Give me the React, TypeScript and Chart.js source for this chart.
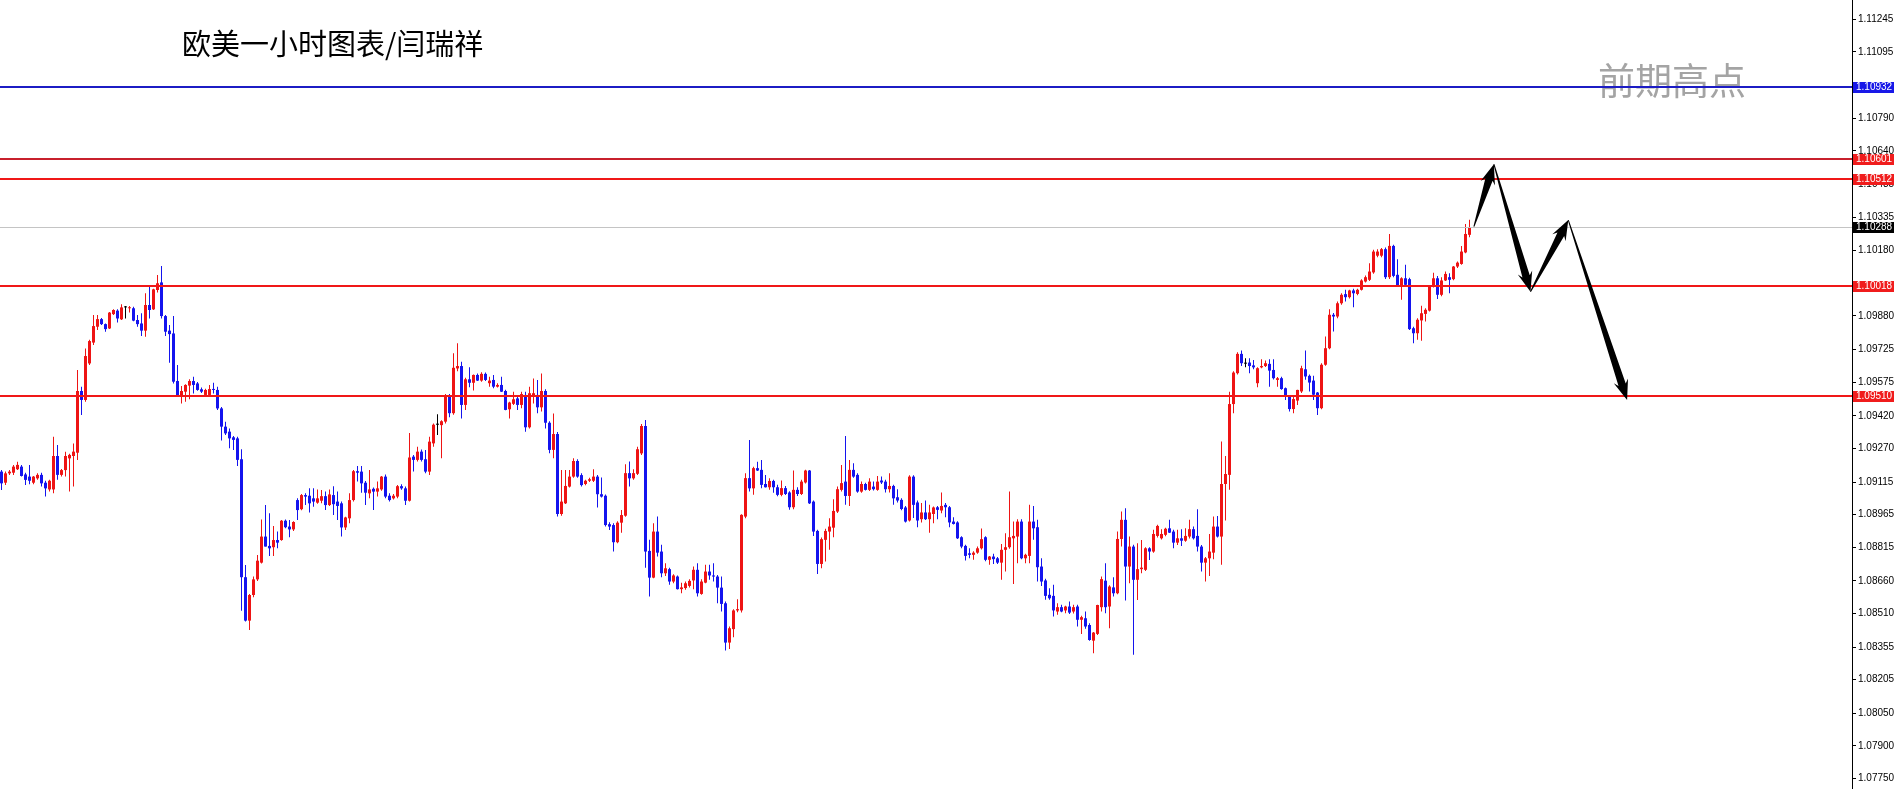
import React, { useEffect, useRef } from 'react';
import { Chart, registerables } from 'chart.js';

Chart.register(...registerables);

// ---- EURUSD H1 candles ----
const OPEN = [
  1.09163,1.09112,1.09155,1.09158,1.09174,1.09186,1.09150,1.09140,1.09112,1.09132,
  1.09148,1.09112,1.09081,1.09081,1.09235,1.09148,1.09170,1.09224,1.09235,1.09250,
  1.09534,1.09493,1.09661,1.09757,1.09830,1.09865,1.09842,1.09822,1.09888,1.09904,
  1.09864,1.09919,1.09915,1.09915,1.09861,1.09845,1.09812,1.09930,1.09910,1.09999,
  1.10034,1.09879,1.09812,1.09799,1.09580,1.09511,1.09531,1.09559,1.09580,1.09569,
  1.09542,1.09516,1.09516,1.09542,1.09539,1.09454,1.09370,1.09347,1.09321,1.09316,
  1.09220,1.08677,1.08477,1.08595,1.08667,1.08744,1.08864,1.08821,1.08815,1.08848,
  1.08848,1.08937,1.08910,1.08897,1.09032,1.08990,1.09055,1.09052,1.09040,1.09020,
  1.09029,1.09050,1.09009,1.09055,1.09025,1.09017,1.08906,1.08948,1.09032,1.09165,
  1.09163,1.09112,1.09063,1.09084,1.09071,1.09081,1.09140,1.09052,1.09040,1.09048,
  1.09096,1.09086,1.09029,1.09232,1.09217,1.09255,1.09220,1.09163,1.09293,1.09379,
  1.09377,1.09393,1.09513,1.09432,1.09638,1.09649,1.09470,1.09588,1.09572,1.09608,
  1.09582,1.09613,1.09570,1.09585,1.09554,1.09562,1.09534,1.09450,1.09475,1.09500,
  1.09470,1.09516,1.09367,1.09508,1.09516,1.09459,1.09534,1.09388,1.09263,1.09336,
  1.08968,1.09017,1.09094,1.09140,1.09212,1.09147,1.09106,1.09121,1.09121,1.09140,
  1.09059,1.09052,1.08921,1.08917,1.08838,1.08928,1.08960,1.09156,1.09132,1.09153,
  1.09247,1.09373,1.08798,1.08675,1.08887,1.08795,1.08695,1.08714,1.08657,1.08680,
  1.08622,1.08627,1.08637,1.08662,1.08711,1.08600,1.08652,1.08703,1.08685,1.08680,
  1.08629,1.08557,1.08376,1.08438,1.08524,1.08524,1.08956,1.09133,1.09086,1.09179,
  1.09171,1.09106,1.09091,1.09120,1.09091,1.09056,1.09087,1.09067,1.08999,1.09079,
  1.09060,1.09113,1.09168,1.09025,1.08890,1.08738,1.08849,1.08887,1.08905,1.08979,
  1.09079,1.09117,1.09051,1.09171,1.09148,1.09071,1.09106,1.09079,1.09094,1.09079,
  1.09122,1.09117,1.09082,1.09097,1.09045,1.09033,1.08998,1.08938,1.09140,1.09021,
  1.08944,1.08975,1.08944,1.08968,1.08999,1.08984,1.09010,1.08999,1.08933,1.08929,
  1.08861,1.08821,1.08787,1.08780,1.08790,1.08810,1.08861,1.08757,1.08772,1.08764,
  1.08744,1.08803,1.08815,1.08856,1.08864,1.08933,1.08764,1.08775,1.08933,1.08907,
  1.08726,1.08662,1.08596,1.08591,1.08519,1.08539,1.08524,1.08542,1.08519,1.08542,
  1.08481,1.08488,1.08457,1.08385,1.08416,1.08539,1.08661,1.08542,1.08630,1.08603,
  1.08853,1.08941,1.08726,1.08818,1.08665,1.08714,1.08711,1.08810,1.08795,1.08867,
  1.08856,1.08872,1.08902,1.08887,1.08836,1.08856,1.08845,1.08864,1.08898,1.08867,
  1.08818,1.08744,1.08764,1.08790,1.08910,1.08864,1.09106,1.09148,1.09474,1.09616,
  1.09705,1.09660,1.09665,1.09652,1.09570,1.09643,1.09649,1.09659,1.09631,1.09585,
  1.09593,1.09547,1.09512,1.09451,1.09490,1.09532,1.09634,1.09604,1.09582,1.09527,
  1.09455,1.09655,1.09731,1.09885,1.09877,1.09938,1.09980,1.09966,1.09997,1.09981,
  1.10000,1.10038,1.10046,1.10080,1.10157,1.10157,1.10187,1.10058,1.10202,1.10069,
  1.10018,1.10053,1.10049,1.09823,1.09800,1.09859,1.09889,1.09904,1.10015,1.10053,
  1.09977,1.10043,1.10058,1.10049,1.10107,1.10119,1.10172,1.10253,
];

const HIGH = [
  1.09170,1.09163,1.09170,1.09194,1.09209,1.09194,1.09158,1.09194,1.09143,1.09155,
  1.09158,1.09121,1.09125,1.09324,1.09286,1.09175,1.09255,1.09245,1.09293,1.09631,
  1.09554,1.09730,1.09770,1.09884,1.09884,1.09870,1.09845,1.09898,1.09910,1.09910,
  1.09934,1.09925,1.09925,1.09922,1.09884,1.09892,1.09984,1.10022,1.10005,1.10068,
  1.10109,1.09884,1.09838,1.09879,1.09654,1.09557,1.09565,1.09588,1.09600,1.09575,
  1.09550,1.09545,1.09562,1.09572,1.09554,1.09460,1.09393,1.09362,1.09327,1.09324,
  1.09266,1.08733,1.08600,1.08680,1.08779,1.08943,1.09009,1.08971,1.08913,1.08887,
  1.08940,1.08943,1.08940,1.08935,1.09040,1.09060,1.09063,1.09086,1.09086,1.09081,
  1.09078,1.09071,1.09081,1.09096,1.09071,1.09025,1.08955,1.09063,1.09170,1.09189,
  1.09189,1.09120,1.09170,1.09090,1.09117,1.09143,1.09150,1.09063,1.09060,1.09101,
  1.09105,1.09095,1.09341,1.09240,1.09278,1.09265,1.09263,1.09324,1.09385,1.09427,
  1.09400,1.09520,1.09520,1.09708,1.09754,1.09669,1.09595,1.09643,1.09610,1.09615,
  1.09620,1.09619,1.09600,1.09608,1.09570,1.09600,1.09540,1.09485,1.09531,1.09508,
  1.09531,1.09531,1.09554,1.09592,1.09585,1.09615,1.09542,1.09395,1.09431,1.09345,
  1.09171,1.09171,1.09171,1.09225,1.09220,1.09155,1.09125,1.09135,1.09174,1.09148,
  1.09136,1.09058,1.08930,1.08925,1.08935,1.08986,1.09197,1.09210,1.09174,1.09278,
  1.09382,1.09401,1.08849,1.08925,1.08956,1.08826,1.08741,1.08720,1.08690,1.08685,
  1.08652,1.08657,1.08668,1.08726,1.08741,1.08667,1.08734,1.08734,1.08741,1.08687,
  1.08680,1.08565,1.08450,1.08530,1.08576,1.08967,1.09155,1.09309,1.09185,1.09209,
  1.09217,1.09148,1.09133,1.09125,1.09102,1.09122,1.09097,1.09073,1.09168,1.09091,
  1.09125,1.09172,1.09171,1.09030,1.08895,1.08860,1.08900,1.08948,1.09036,1.09094,
  1.09194,1.09327,1.09217,1.09202,1.09155,1.09117,1.09112,1.09133,1.09117,1.09143,
  1.09140,1.09125,1.09156,1.09103,1.09082,1.09040,1.09005,1.09146,1.09146,1.09030,
  1.09018,1.09030,1.09010,1.09002,1.09005,1.09067,1.09018,1.09005,1.08953,1.08935,
  1.08866,1.08826,1.08810,1.08797,1.08818,1.08901,1.08866,1.08775,1.08785,1.08770,
  1.08830,1.08879,1.09071,1.08933,1.08944,1.08944,1.08785,1.09010,1.09005,1.08941,
  1.08764,1.08670,1.08626,1.08642,1.08557,1.08550,1.08545,1.08565,1.08550,1.08550,
  1.08500,1.08519,1.08465,1.08425,1.08550,1.08680,1.08741,1.08640,1.08677,1.08887,
  1.08979,1.08994,1.08864,1.08826,1.08833,1.08848,1.08815,1.08815,1.08895,1.08918,
  1.08898,1.08905,1.08941,1.08895,1.08895,1.08898,1.08902,1.08941,1.08910,1.08990,
  1.08825,1.08770,1.08876,1.08956,1.08959,1.09302,1.09235,1.09531,1.09625,1.09712,
  1.09720,1.09685,1.09685,1.09677,1.09643,1.09680,1.09674,1.09680,1.09680,1.09598,
  1.09600,1.09550,1.09516,1.09510,1.09540,1.09650,1.09720,1.09610,1.09604,1.09530,
  1.09662,1.09785,1.09911,1.09893,1.09946,1.09984,1.10000,1.10000,1.10005,1.10005,
  1.10049,1.10066,1.10122,1.10184,1.10187,1.10192,1.10195,1.10257,1.10207,1.10141,
  1.10058,1.10115,1.10055,1.09830,1.09869,1.09926,1.09915,1.10020,1.10079,1.10064,
  1.10058,1.10084,1.10076,1.10110,1.10130,1.10202,1.10303,1.10322,
];

const LOW = [
  1.09078,1.09101,1.09148,1.09148,1.09170,1.09140,1.09101,1.09105,1.09105,1.09125,
  1.09094,1.09048,1.09071,1.09063,1.09125,1.09140,1.09140,1.09071,1.09094,1.09217,
  1.09424,1.09485,1.09654,1.09746,1.09815,1.09838,1.09807,1.09819,1.09884,1.09849,
  1.09861,1.09868,1.09895,1.09855,1.09830,1.09787,1.09784,1.09868,1.09907,1.09987,
  1.09868,1.09787,1.09664,1.09569,1.09508,1.09477,1.09485,1.09496,1.09523,1.09535,
  1.09525,1.09510,1.09510,1.09523,1.09447,1.09306,1.09332,1.09270,1.09263,1.09189,
  1.08523,1.08473,1.08434,1.08585,1.08660,1.08740,1.08818,1.08775,1.08775,1.08810,
  1.08845,1.08902,1.08861,1.08890,1.08940,1.08985,1.09009,1.08975,1.09001,1.09015,
  1.09017,1.08986,1.09005,1.08963,1.08940,1.08864,1.08894,1.08925,1.09025,1.09117,
  1.09066,1.09009,1.09040,1.08986,1.09048,1.09075,1.09040,1.09025,1.09035,1.09040,
  1.09080,1.09009,1.09025,1.09163,1.09210,1.09210,1.09155,1.09148,1.09278,1.09332,
  1.09224,1.09385,1.09413,1.09425,1.09625,1.09408,1.09447,1.09551,1.09536,1.09580,
  1.09577,1.09580,1.09554,1.09547,1.09550,1.09530,1.09445,1.09408,1.09470,1.09447,
  1.09455,1.09347,1.09362,1.09477,1.09432,1.09440,1.09362,1.09247,1.09225,1.08956,
  1.08960,1.09014,1.09090,1.09135,1.09135,1.09095,1.09100,1.09115,1.09115,1.08998,
  1.09044,1.08910,1.08894,1.08795,1.08833,1.08882,1.08955,1.09094,1.09125,1.09148,
  1.09240,1.08720,1.08588,1.08672,1.08772,1.08677,1.08683,1.08642,1.08649,1.08620,
  1.08603,1.08619,1.08630,1.08622,1.08588,1.08596,1.08649,1.08665,1.08657,1.08557,
  1.08519,1.08339,1.08346,1.08401,1.08516,1.08515,1.08948,1.09071,1.09056,1.09166,
  1.09086,1.09090,1.09079,1.09066,1.09050,1.09050,1.09055,1.08987,1.08990,1.09051,
  1.09055,1.09108,1.09014,1.08867,1.08692,1.08718,1.08749,1.08803,1.08861,1.08972,
  1.09071,1.09010,1.09005,1.09135,1.09066,1.09066,1.09076,1.09074,1.09076,1.09075,
  1.09106,1.09067,1.09067,1.09010,1.09021,1.08985,1.08929,1.08933,1.08949,1.08907,
  1.08929,1.08940,1.08882,1.08925,1.08944,1.08971,1.08953,1.08907,1.08920,1.08853,
  1.08810,1.08754,1.08764,1.08757,1.08785,1.08805,1.08750,1.08734,1.08738,1.08738,
  1.08665,1.08703,1.08808,1.08646,1.08741,1.08760,1.08741,1.08741,1.08849,1.08657,
  1.08637,1.08573,1.08573,1.08496,1.08504,1.08516,1.08511,1.08508,1.08510,1.08450,
  1.08416,1.08440,1.08385,1.08327,1.08411,1.08519,1.08511,1.08442,1.08588,1.08598,
  1.08818,1.08570,1.08649,1.08320,1.08572,1.08695,1.08705,1.08756,1.08790,1.08860,
  1.08850,1.08865,1.08880,1.08810,1.08825,1.08821,1.08840,1.08855,1.08850,1.08795,
  1.08703,1.08657,1.08683,1.08760,1.08860,1.08734,1.08938,1.09079,1.09432,1.09610,
  1.09649,1.09643,1.09616,1.09634,1.09551,1.09639,1.09645,1.09554,1.09587,1.09554,
  1.09540,1.09493,1.09440,1.09432,1.09470,1.09525,1.09586,1.09532,1.09493,1.09424,
  1.09450,1.09650,1.09726,1.09808,1.09869,1.09931,1.09946,1.09960,1.09920,1.09975,
  1.09997,1.10033,1.10040,1.10074,1.10150,1.10150,1.10050,1.10050,1.10058,1.10015,
  1.09954,1.10015,1.09815,1.09754,1.09770,1.09766,1.09854,1.09900,1.10010,1.09958,
  1.09970,1.10040,1.09984,1.10044,1.10100,1.10115,1.10168,1.10242,
];

const CLOSE = [
  1.09109,1.09155,1.09163,1.09186,1.09194,1.09143,1.09125,1.09121,1.09140,1.09148,
  1.09109,1.09086,1.09121,1.09235,1.09148,1.09170,1.09235,1.09240,1.09255,1.09534,
  1.09493,1.09695,1.09764,1.09833,1.09865,1.09842,1.09819,1.09895,1.09907,1.09868,
  1.09919,1.09919,1.09919,1.09858,1.09842,1.09812,1.09930,1.09907,1.10002,1.10030,
  1.09879,1.09807,1.09796,1.09577,1.09511,1.09534,1.09562,1.09580,1.09562,1.09539,
  1.09531,1.09539,1.09543,1.09539,1.09454,1.09370,1.09339,1.09316,1.09309,1.09217,
  1.08677,1.08477,1.08595,1.08667,1.08753,1.08864,1.08818,1.08810,1.08848,1.08836,
  1.08937,1.08907,1.08897,1.08931,1.08986,1.09055,1.09048,1.09017,1.09025,1.09040,
  1.09050,1.09009,1.09058,1.09013,1.09005,1.08906,1.08952,1.09032,1.09165,1.09158,
  1.09109,1.09066,1.09081,1.09071,1.09086,1.09140,1.09048,1.09032,1.09052,1.09096,
  1.09086,1.09029,1.09228,1.09217,1.09255,1.09217,1.09163,1.09301,1.09379,1.09379,
  1.09395,1.09513,1.09432,1.09641,1.09649,1.09470,1.09588,1.09572,1.09608,1.09582,
  1.09613,1.09585,1.09582,1.09554,1.09562,1.09531,1.09447,1.09481,1.09496,1.09470,
  1.09520,1.09367,1.09524,1.09524,1.09459,1.09534,1.09388,1.09263,1.09336,1.08968,
  1.09025,1.09097,1.09140,1.09212,1.09140,1.09101,1.09121,1.09128,1.09140,1.09059,
  1.09048,1.08917,1.08910,1.08838,1.08928,1.08963,1.09156,1.09132,1.09156,1.09266,
  1.09373,1.08795,1.08675,1.08887,1.08790,1.08695,1.08718,1.08657,1.08685,1.08622,
  1.08630,1.08649,1.08660,1.08711,1.08603,1.08657,1.08703,1.08685,1.08680,1.08629,
  1.08554,1.08376,1.08442,1.08524,1.08530,1.08964,1.09133,1.09086,1.09179,1.09168,
  1.09102,1.09091,1.09120,1.09091,1.09056,1.09087,1.09060,1.08999,1.09079,1.09060,
  1.09117,1.09168,1.09017,1.08887,1.08738,1.08852,1.08890,1.08910,1.08982,1.09082,
  1.09110,1.09051,1.09171,1.09140,1.09071,1.09106,1.09079,1.09117,1.09082,1.09117,
  1.09113,1.09082,1.09097,1.09040,1.09030,1.08991,1.08933,1.09140,1.09010,1.08938,
  1.08975,1.08944,1.08975,1.08998,1.08987,1.09005,1.08999,1.08929,1.08922,1.08856,
  1.08818,1.08775,1.08780,1.08790,1.08810,1.08852,1.08757,1.08772,1.08760,1.08744,
  1.08803,1.08815,1.08861,1.08867,1.08933,1.08764,1.08780,1.08933,1.08902,1.08723,
  1.08657,1.08591,1.08580,1.08524,1.08539,1.08519,1.08542,1.08514,1.08539,1.08481,
  1.08493,1.08450,1.08388,1.08422,1.08549,1.08668,1.08539,1.08634,1.08603,1.08853,
  1.08941,1.08726,1.08818,1.08665,1.08714,1.08721,1.08810,1.08795,1.08876,1.08913,
  1.08876,1.08900,1.08882,1.08836,1.08856,1.08845,1.08867,1.08898,1.08856,1.08818,
  1.08744,1.08764,1.08795,1.08910,1.08864,1.09106,1.09152,1.09474,1.09619,1.09705,
  1.09662,1.09660,1.09649,1.09643,1.09639,1.09649,1.09662,1.09628,1.09593,1.09593,
  1.09543,1.09509,1.09451,1.09497,1.09539,1.09639,1.09601,1.09573,1.09517,1.09455,
  1.09655,1.09731,1.09885,1.09877,1.09938,1.09977,1.09966,1.09997,1.09984,1.10000,
  1.10043,1.10058,1.10084,1.10176,1.10176,1.10187,1.10058,1.10202,1.10064,1.10018,
  1.10053,1.10023,1.09819,1.09800,1.09862,1.09892,1.09908,1.10015,1.10053,1.09977,
  1.10043,1.10073,1.10046,1.10107,1.10125,1.10176,1.10257,1.10288,
];

// price-axis tick labels (those hidden behind the level boxes are left out)
const Y_TICKS = [
  1.11245, 1.11095, 1.10790, 1.10640, 1.10485, 1.10335, 1.10180,
  1.09880, 1.09725, 1.09575, 1.09420, 1.09270, 1.09115, 1.08965, 1.08815, 1.08660,
  1.08510, 1.08355, 1.08205, 1.08050, 1.07900, 1.07750,
];
const Y_MIN = 1.07702;
const Y_MAX = 1.11334;
const X_MIN = -0.375;
const X_MAX = 462.625;

// horizontal levels
const LEVELS = [1.10932, 1.10601, 1.10512, 1.10018, 1.09510];
const LEVEL_LINE_COLORS = ['#1c1cc4', '#c8202c', '#f01818', '#f01818', '#f01818'];
const LEVEL_BOX_COLORS = ['#1818e8', '#f01c1c', '#f01c1c', '#f01c1c', '#f01c1c'];
const LAST_PRICE = 1.10288;

// projected path (bar index, price)
const ARROW_X = [368.1, 373.1, 382.25, 391.7, 406.4];
const ARROW_Y = [1.10291, 1.10578, 1.09991, 1.10321, 1.09493];

const TITLE = '欧美一小时图表/闫瑞祥';
const NOTE = '前期高点';
const NOTE_X = 399.1;
const NOTE_PRICE = 1.10962;

const UP = '#ee1414';
const DOWN = '#1414ee';
const DOJI = '#000000';

const AXIS_FONT = '"Liberation Sans", Arial, sans-serif';

function drawArrow(ctx: CanvasRenderingContext2D, a: number[], b: number[]) {
  const dx = b[0] - a[0];
  const dy = b[1] - a[1];
  const len = Math.hypot(dx, dy);
  const ux = dx / len, uy = dy / len;
  const nx = -uy, ny = ux;
  const headLen = 16, headHalf = 7.5, w0 = 0.5, w1 = 3.8, barb = 4;
  const bx = b[0] - ux * headLen, by = b[1] - uy * headLen;
  ctx.beginPath();
  ctx.moveTo(a[0] + nx * w0, a[1] + ny * w0);
  ctx.lineTo(bx + nx * w1, by + ny * w1);
  ctx.lineTo(bx - ux * barb + nx * headHalf, by - uy * barb + ny * headHalf);
  ctx.lineTo(b[0], b[1]);
  ctx.lineTo(bx - ux * barb - nx * headHalf, by - uy * barb - ny * headHalf);
  ctx.lineTo(bx - nx * w1, by - ny * w1);
  ctx.lineTo(a[0] - nx * w0, a[1] - ny * w0);
  ctx.closePath();
  ctx.fill();
}

const overlay = {
  id: 'overlay',
  afterDatasetsDraw(chart: any) {
    const { ctx, chartArea, scales } = chart;
    const xs = scales.x, ys = scales.y;
    ctx.save();
    // note text
    ctx.font = '37px "Noto Sans CJK SC", sans-serif';
    ctx.fillStyle = '#a4a4a4';
    ctx.textBaseline = 'middle';
    ctx.textAlign = 'left';
    ctx.fillText(NOTE, xs.getPixelForValue(NOTE_X), ys.getPixelForValue(NOTE_PRICE));
    // last price line
    const yl = Math.round(ys.getPixelForValue(LAST_PRICE));
    ctx.fillStyle = '#c4c4c4';
    ctx.fillRect(chartArea.left, yl, chartArea.right - chartArea.left, 1);
    // levels
    LEVELS.forEach((v, k) => {
      const y = Math.round(ys.getPixelForValue(v));
      ctx.fillStyle = LEVEL_LINE_COLORS[k];
      ctx.fillRect(chartArea.left, y - 1, chartArea.right - chartArea.left, 2);
    });
    // arrows
    const pts = ARROW_X.map((x, k) => [xs.getPixelForValue(x), ys.getPixelForValue(ARROW_Y[k])]);
    ctx.fillStyle = '#000';
    for (let k = 0; k < pts.length - 1; k++) drawArrow(ctx, pts[k], pts[k + 1]);
    ctx.restore();
  },
  afterDraw(chart: any) {
    const { ctx, scales } = chart;
    const ys = scales.y;
    ctx.save();
    ctx.font = '10px ' + AXIS_FONT;
    ctx.textBaseline = 'middle';
    ctx.textAlign = 'left';
    const boxes: [number, string][] = LEVELS.map((v, k) => [v, LEVEL_BOX_COLORS[k]] as [number, string]);
    boxes.push([LAST_PRICE, '#000000']);
    boxes.forEach(([v, col]) => {
      const y = Math.round(ys.getPixelForValue(v));
      ctx.fillStyle = col;
      ctx.fillRect(ys.left + 1, y - 5, 41, 11);
      ctx.fillStyle = '#ffffff';
      ctx.fillText(v.toFixed(5), ys.left + 4, y + 0.5);
    });
    // title
    ctx.font = '29px "Noto Sans CJK SC", sans-serif';
    ctx.fillStyle = '#000';
    ctx.fillText(TITLE, 182, 44);
    ctx.restore();
  },
};

export default function App() {
  const ref = useRef<HTMLCanvasElement>(null);
  useEffect(() => {
    document.body.style.margin = '0';
    const n = CLOSE.length;
    const idx = Array.from({ length: n }, (_, i) => i);
    const colors = idx.map((i) => (CLOSE[i] > OPEN[i] ? UP : CLOSE[i] < OPEN[i] ? DOWN : DOJI));
    const chart = new Chart(ref.current as HTMLCanvasElement, {
      type: 'bar',
      data: {
        datasets: [
          {
            label: 'body',
            data: idx.map((i) => ({ x: i, y: [OPEN[i], CLOSE[i]] })) as any,
            backgroundColor: colors,
            barThickness: 3,
            minBarLength: 1,
            grouped: false,
            inflateAmount: 0,
            borderWidth: 0,
          } as any,
          {
            label: 'wick',
            data: idx.map((i) => ({ x: i, y: [LOW[i], HIGH[i]] })) as any,
            backgroundColor: colors,
            barThickness: 1,
            minBarLength: 1,
            grouped: false,
            inflateAmount: 0,
            borderWidth: 0,
          } as any,
        ],
      },
      options: {
        responsive: false,
        animation: false,
        events: [],
        layout: { padding: 0 },
        plugins: { legend: { display: false }, tooltip: { enabled: false } },
        scales: {
          x: {
            type: 'linear',
            display: false,
            min: X_MIN,
            max: X_MAX,
            offset: false,
          },
          y: {
            type: 'linear',
            position: 'right',
            min: Y_MIN,
            max: Y_MAX,
            afterBuildTicks: (s: any) => {
              s.ticks = Y_TICKS.map((v) => ({ value: v }));
            },
            afterFit: (s: any) => {
              s.width = 47;
              s.paddingTop = 0;
              s.paddingBottom = 0;
            },
            ticks: {
              autoSkip: false,
              padding: 2,
              color: '#000',
              font: { family: AXIS_FONT, size: 10 },
              callback: (v: any) => Number(v).toFixed(5),
            },
            grid: { drawOnChartArea: false, drawTicks: true, tickLength: 4, color: '#000', lineWidth: 1 },
            border: { display: true, color: '#000', width: 1 },
          },
        },
      } as any,
      plugins: [overlay],
    });
    return () => chart.destroy();
  }, []);
  return (
    <canvas
      ref={ref}
      width={1899}
      height={789}
      style={{ display: 'block', width: 1899, height: 789 }}
    />
  );
}
